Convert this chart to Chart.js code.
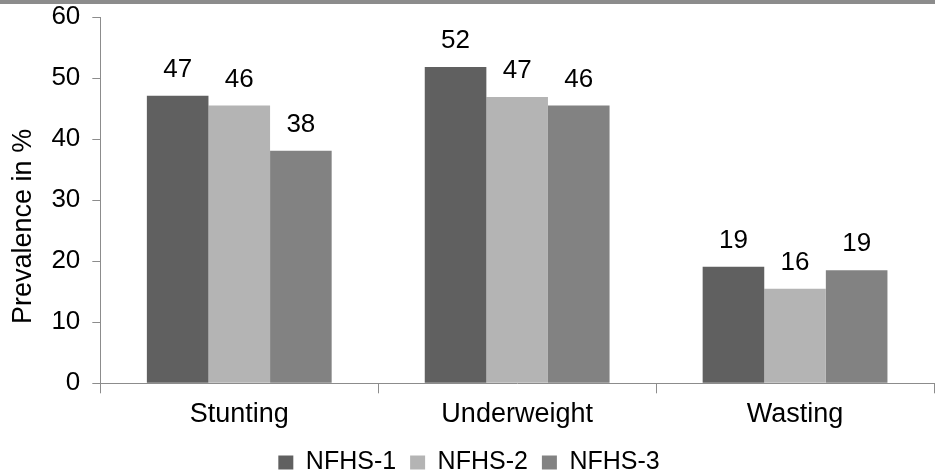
<!DOCTYPE html>
<html>
<head>
<meta charset="utf-8">
<script src="https://cdn.jsdelivr.net/npm/chart.js@4"></script>
<style>
  html, body { margin: 0; padding: 0; background: #fff; }
  #wrap { width: 935px; height: 473px; position: relative; }
  #topline { position: absolute; left: 0; top: 0; width: 935px; height: 4px; background: #8c8c8c; }
</style>
</head>
<body>
<div id="wrap"><canvas id="chart"></canvas><div id="topline"></div></div>
<script>
const categories = ['Stunting', 'Underweight', 'Wasting'];
const nfhs1 = [47.1, 51.8, 19.1];
const nfhs2 = [45.5, 46.9, 15.5];
const nfhs3 = [38.1, 45.5, 18.5];
const yTicks = [0, 10, 20, 30, 40, 50, 60];

const FONT = "'Liberation Sans', Arial, sans-serif";

// draws the rounded value above every bar
const valueLabels = {
    id: 'valueLabels',
    afterDatasetsDraw(chart) {
        const ctx = chart.ctx;
        ctx.save();
        ctx.font = '26px ' + FONT;
        ctx.fillStyle = '#000';
        ctx.textAlign = 'center';
        ctx.textBaseline = 'alphabetic';
        chart.data.datasets.forEach((ds, i) => {
            chart.getDatasetMeta(i).data.forEach((bar, j) => {
                ctx.fillText(Math.round(ds.data[j]), bar.x, bar.y - 19);
            });
        });
        ctx.restore();
    }
};

const ctx = document.getElementById('chart').getContext('2d');
new Chart(ctx, {
    type: 'bar',
    data: {
        labels: categories,
        datasets: [
            { label: 'NFHS-1', data: nfhs1, backgroundColor: '#606060' },
            { label: 'NFHS-2', data: nfhs2, backgroundColor: '#b4b4b4' },
            { label: 'NFHS-3', data: nfhs3, backgroundColor: '#828282' }
        ]
    },
    options: {
        responsive: true,
        maintainAspectRatio: false,
        animation: false,
        layout: { padding: { top: 0, right: 1, left: 4, bottom: -12 } },
        datasets: { bar: { categoryPercentage: 0.665, barPercentage: 1.0 } },
        scales: {
            x: {
                grid: { drawOnChartArea: false, color: '#8c8c8c', tickLength: 10 },
                border: { color: '#8c8c8c' },
                // tiny line height keeps the axis box short so the plot can reach down
                ticks: { color: '#000', font: { family: FONT, size: 27, lineHeight: 0.1 }, padding: 20 }
            },
            y: {
                min: 0,
                max: 60,
                afterBuildTicks(axis) { axis.ticks = yTicks.map(v => ({ value: v })); },
                afterFit(axis) { axis.paddingTop = 17; },
                grid: { drawOnChartArea: false, color: '#8c8c8c', tickLength: 8 },
                border: { color: '#8c8c8c' },
                ticks: { color: '#000', font: { family: FONT, size: 26, lineHeight: 1.2 }, padding: 12 },
                title: {
                    display: true,
                    // trailing spaces push the title a bit below the axis middle, as in the source
                    text: 'Prevalence in %       ',
                    color: '#000',
                    font: { family: FONT, size: 27, lineHeight: 1.2 },
                    padding: { top: 3, bottom: 0 }
                }
            }
        },
        plugins: {
            legend: {
                position: 'bottom',
                labels: {
                    color: '#000',
                    font: { family: FONT, size: 25, lineHeight: 1 },
                    boxWidth: 15,
                    boxHeight: 14,
                    padding: 14
                }
            },
            tooltip: { enabled: false }
        }
    },
    plugins: [valueLabels]
});
</script>
</body>
</html>
